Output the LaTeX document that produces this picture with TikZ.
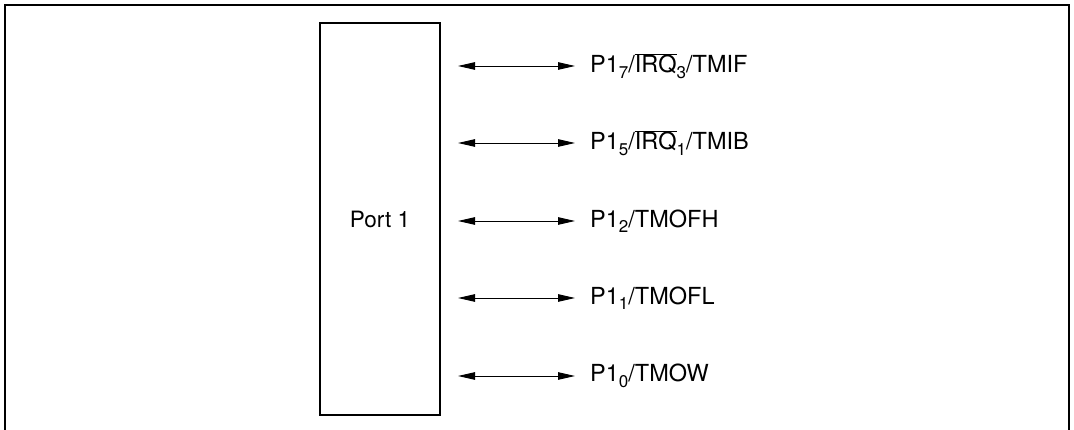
\documentclass[tikz,border=0pt]{standalone}
\usepackage{fontspec}
\setmainfont{TeX Gyre Heros}
\usetikzlibrary{arrows.meta,positioning}

\newcommand{\pinsub}[1]{\raisebox{-0.45ex}{\fontsize{17}{17}\selectfont #1}}
\newcommand{\pinbar}[1]{$\overline{\mbox{#1}}$}

\begin{document}
\begin{tikzpicture}[
  x=1pt,y=-1pt,
  font=\fontsize{22.5}{26}\selectfont,
  frame/.style={line width=2.6pt},
  portbox/.style={draw,line width=1.3pt,minimum width=120pt,minimum height=392pt,inner sep=0pt},
  pin/.style={anchor=west,inner sep=0pt,font=\fontsize{23.5}{26}\selectfont},
  bidir/.style={line width=0.9pt,{Triangle[length=17pt,width=7.5pt]}-{Triangle[length=17pt,width=7.5pt]}}
]
\useasboundingbox (0,0) rectangle (1074,430);
\draw[frame] (5,432) -- (5,5) -- (1069,5) -- (1069,432);

\node[portbox] (port) at (380,219) {Port 1};

\node[pin] (p7) at (590,66)  {P1\pinsub{7}/\pinbar{IRQ}\pinsub{3}/TMIF};
\node[pin] (p5) at (590,143) {P1\pinsub{5}/\pinbar{IRQ}\pinsub{1}/TMIB};
\node[pin] (p2) at (590,221) {P1\pinsub{2}/TMOFH};
\node[pin] (p1) at (590,298) {P1\pinsub{1}/TMOFL};
\node[pin] (p0) at (590,376) {P1\pinsub{0}/TMOW};

\coordinate (e7) at (458,66);
\coordinate (e5) at (458,143);
\coordinate (e2) at (458,221);
\coordinate (e1) at (458,298);
\coordinate (e0) at (458,376);

\draw[bidir] (e7) -- ([xshift=-15pt]p7.west);
\draw[bidir] (e5) -- ([xshift=-15pt]p5.west);
\draw[bidir] (e2) -- ([xshift=-15pt]p2.west);
\draw[bidir] (e1) -- ([xshift=-15pt]p1.west);
\draw[bidir] (e0) -- ([xshift=-15pt]p0.west);
\end{tikzpicture}
\end{document}
